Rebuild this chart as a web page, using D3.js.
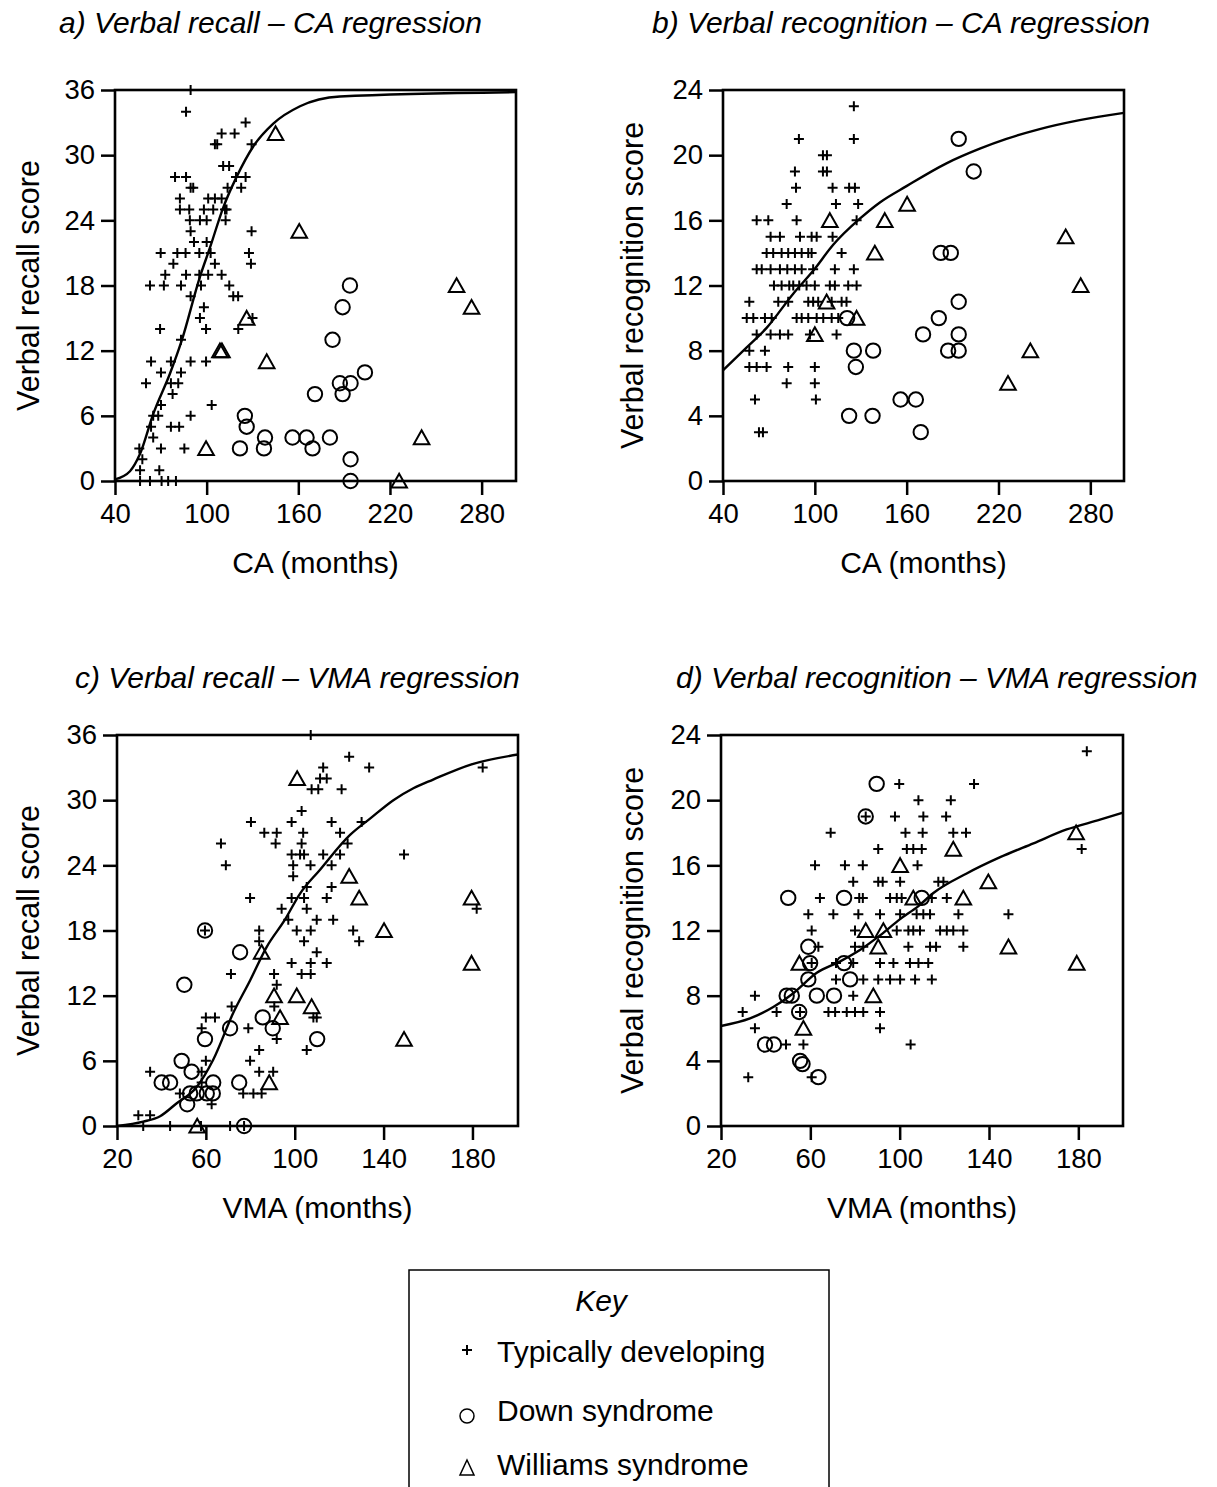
<!DOCTYPE html>
<html><head><meta charset="utf-8">
<script src="https://cdn.jsdelivr.net/npm/d3@7"></script>
<style>body{margin:0;background:#fff}svg{display:block}</style>
</head><body>
<script>
// ---------- DATA ----------
const groups = ["Typically developing", "Down syndrome", "Williams syndrome"];
const panelTitles = ["a) Verbal recall \u2013 CA regression", "b) Verbal recognition \u2013 CA regression",
                     "c) Verbal recall \u2013 VMA regression", "d) Verbal recognition \u2013 VMA regression"];
const xLabels = ["CA (months)", "CA (months)", "VMA (months)", "VMA (months)"];
const yLabels = ["Verbal recall score", "Verbal recognition score", "Verbal recall score", "Verbal recognition score"];
const xTicksCA = [40, 100, 160, 220, 280];
const xTicksVMA = [20, 60, 100, 140, 180];
const yTicksRecall = [0, 6, 12, 18, 24, 30, 36];
const yTicksRecog = [0, 4, 8, 12, 16, 20, 24];

// Panel a: recall vs CA
const tdA = [[89.5,36],[86.5,34],[125.5,33],[109.8,32],[118.3,32],[105.4,31],[106.9,31],[129.4,31],
 [110.8,29],[114.7,29],[79.3,28],[86.5,28],[119.2,28],[125.5,28],[89.5,27],[91.2,27],[113.7,27],[122.6,27],
 [82.5,26],[101,26],[105.4,26],[109.8,26],[82.5,25],[88.6,25],[98.2,25],[104.3,25],[112,25],[113,25],
 [89,24],[95.6,24],[100,24],[112.4,24],[89.5,23],[129.4,23],[91.7,22],[100,22],
 [69.9,21],[80.8,21],[86.2,21],[95.2,21],[102.6,21],[127.7,21],[78.2,20],[105.4,20],[129,20],
 [72.9,19],[86.5,19],[95.2,19],[101,19],[109.8,19],[62.9,18],[72,18],[83.2,18],[96.3,18],[114.8,18],
 [117.4,17],[120.6,17],[89.5,17],[98.2,16],[95.6,15],[130,15],[69.5,14],[99.6,14],[120.7,14],[83.2,13],
 [63.6,11],[76.6,11],[89.5,11],[99.6,11],[70.1,10],[83.2,10],[60.3,9],[76.6,9],[81.4,9],[77.7,8],
 [70.1,7],[103.3,7],[65,6],[68.3,6],[89.5,6],[63.6,5],[76.6,5],[82,5],[65,4],[55.9,3],[70.1,3],[85.4,3],
 [57.9,2],[56.4,1],[69,1],[56.4,0],[62.9,0],[70.5,0],[74.8,0],[79.9,0]];
const dsA = [[125,6],[126.2,5],[138.2,4],[121.8,3],[137.5,3],[156.2,4],[193.8,18],[189,16],[182.4,13],
 [203.6,10],[187.2,9],[194.2,9],[189,8],[170.9,8],[165.4,4],[169.3,3],[180.7,4],[194.2,2],[194.2,0]];
const wsA = [[145.1,32],[160.6,23],[126.2,15],[108.7,12],[110,12],[139.3,11],[99.6,3],[263.6,18],[273.4,16],[240.7,4],[226,0]];
const fitA = [[40,0.15],[49.8,0.9],[56.4,2.5],[65.1,6.2],[76,9.9],[83.6,12.9],[95.6,18.8],[102.2,21.5],
 [110.9,25.2],[119.6,28],[130.5,30.8],[143.6,32.9],[161.1,34.5],[187.2,35.4],[302.5,35.8]];

// Panel b: recognition vs CA
const tdB = [[125.5,23],[89.6,21],[125.5,21],[105.3,20],[107.9,20],[87,19],[105.3,19],[107.9,19],
 [87.7,18],[111.6,18],[122.4,18],[126.2,18],[81.6,17],[113.8,17],[128.3,17],
 [62,16],[69.6,16],[88.1,16],[127.3,16],[71.1,15],[77.2,15],[90.3,15],[97.9,15],[101.2,15],[111.6,15],
 [68.5,14],[72.8,14],[78.3,14],[82.6,14],[87,14],[91.4,14],[95.7,14],[97.9,14],[117.5,14],
 [62,13],[65.3,13],[71.1,13],[77.2,13],[82,13],[87,13],[91.4,13],[98.9,13],[113.1,13],[125.5,13],
 [73.3,12],[78.3,12],[83.3,12],[85.9,12],[89.8,12],[94.6,12],[100,12],[109.8,12],[113.1,12],[121.8,12],[127.3,12],
 [57.2,11],[76.1,11],[82.6,11],[95.7,11],[98.9,11],[102.2,11],[111,11],[117.5,11],[120.7,11],
 [55.5,10],[59.8,10],[67.4,10],[71.8,10],[88.1,10],[91.4,10],[95.7,10],[101.2,10],[105.5,10],[111,10],[115.3,10],
 [62,9],[71.1,9],[77.2,9],[82.6,9],[96.8,9],[114.2,9],[57.2,8],[67.4,8],
 [57.2,7],[62,7],[68.5,7],[82.6,7],[100,7],[81.6,6],[100,6],[60.9,5],[100.7,5],[63.5,3],[66.1,3]];
const dsB = [[121.1,10],[125.5,8],[138.1,8],[126.8,7],[122.4,4],[137.7,4],[194,21],[203.8,19],[182.3,14],
 [188.8,14],[194,11],[181,10],[170.7,9],[194,9],[187.1,8],[194,8],[156,5],[166,5],[169.2,3]];
const wsB = [[109.8,16],[145.7,16],[139.2,14],[107.7,11],[127.3,10],[100,9],[160.3,17],[263.9,15],[273.7,12],[240.8,8],[226.2,6]];
const fitB = [[40,6.8],[55.5,8.2],[68.5,9.4],[85.9,11.5],[98.9,12.9],[112,14.5],[129.4,16.1],[142.5,17.1],
 [159.9,18.1],[186,19.5],[207.8,20.4],[225.2,21],[246.9,21.6],[273,22.15],[302,22.6]];

// Panel c: recall vs VMA
const tdC = [[107.2,36],[124.5,34],[112.8,33],[133.5,33],[184.6,33],[111.4,32],[114.4,32],[107.6,31],[110.6,31],[121.1,31],
 [103.1,29],[98.6,28],[80.3,28],[116.6,28],[130.1,28],[103.8,27],[86.3,27],[91.9,27],[120.4,27],
 [91.4,26],[103.1,26],[66.8,26],[123.8,26],[98.6,25],[102.4,25],[104.2,25],[112.8,25],[120.4,25],[149.2,25],
 [69,24],[99.3,24],[107.1,24],[116.6,24],[99.3,23],[105.4,22],[116.6,22],[79.9,21],[98.6,21],[104.2,21],[114.4,21],
 [94.1,20],[105.4,20],[181.9,20],[97.1,19],[109.9,19],[117.3,19],[100.9,18],[107.2,18],[84,18],[126.3,18],[59.6,18],
 [84,17],[104.2,17],[129,17],[109.9,16],[98.6,15],[107.2,15],[114.4,15],[103.1,14],[107.2,14],[71.3,14],[90.7,14],
 [91.9,13],[90.8,11],[71.6,11],[108.4,10],[60,10],[64.1,10],[109.9,10],[58.1,9],[79.1,9],[91.9,8],
 [105.4,7],[84,7],[60,6],[79.9,6],[34.9,5],[84,5],[90.3,5],[58.1,5],[58.1,4],
 [48.3,3],[76.8,3],[81.4,3],[85.1,3],[62.6,2],[29.6,1],[34.9,1],[31.8,0],[43.9,0],[57.8,0],[70.9,0],[77.2,0]];
const dsC = [[59.6,18],[75.4,16],[50.3,13],[85.6,10],[90.1,9],[70.9,9],[59.6,8],[49.1,6],[53.6,5],[40.1,4],
 [43.9,4],[63.3,4],[75,4],[52.9,3],[55.9,3],[60.4,3],[63.1,3],[51.6,2],[77.2,0],[110.1,8]];
const wsC = [[101.1,32],[85.1,16],[90.7,12],[100.9,12],[107.6,11],[93.4,10],[88.5,4],[56.1,0],[124.5,23],
 [129,21],[140.2,18],[179.6,21],[179.6,15],[149.2,8]];
const fitC = [[20,0],[31.8,0.4],[39.4,0.9],[46.9,2.1],[55.9,3.6],[63.3,6.1],[72.3,10.4],[79.9,13.4],[87.4,16.5],
 [95.6,19],[102.4,21.4],[111.4,23.6],[124.9,26.8],[133.9,28.3],[144.4,30],[153.4,31.1],[162.3,31.9],[179.6,33.3],[200.5,34.2]];

// Panel d: recognition vs VMA
const tdD = [[183.8,23],[99.8,21],[133.3,21],[108.4,20],[122.9,20],[97.9,19],[84.8,19],[110.6,19],[120.8,19],
 [69.1,18],[102.6,18],[110.3,18],[124,18],[129.7,18],[90.4,17],[103.2,17],[106.1,17],[109.9,17],[181.5,17],
 [62.1,16],[75.5,16],[83.5,16],[108,16],[79.2,15],[90.4,15],[92.4,15],[100.2,15],[117.3,15],[119.6,15],
 [64.3,14],[81.9,14],[83.5,14],[95.7,14],[98.7,14],[100.9,14],[114.4,14],[121.1,14],
 [59.1,13],[70.3,13],[81.5,13],[91.2,13],[100.2,13],[107.6,13],[110.6,13],[113.6,13],[126.3,13],[148.7,13],
 [60.6,12],[80,12],[98.7,12],[103.9,12],[106.1,12],[109.1,12],[118.1,12],[121.1,12],[124,12],[128.5,12],
 [63.6,11],[80,11],[83.7,11],[103.9,11],[113.6,11],[116.3,11],[128.5,11],
 [60.6,10],[71.5,10],[79.2,10],[91.2,10],[97.2,10],[104.6,10],[108.4,10],[112.8,10],
 [71.5,9],[83.7,9],[90.4,9],[95.7,9],[100.2,9],[106.9,9],[114.4,9],[35.2,8],[79.2,8],
 [29.7,7],[44.9,7],[55.4,7],[68.1,7],[71.1,7],[76.3,7],[80,7],[83.7,7],[91.2,7],[35.2,6],[91.2,6],
 [49.1,5],[56.9,5],[104.9,5],[32.2,3],[60.6,3]];
const dsD = [[89.7,21],[84.8,19],[50.1,14],[75.1,14],[59.1,11],[59.9,10],[75.1,10],[59.1,9],[77.8,9],[49.4,8],
 [51.7,8],[62.9,8],[70.6,8],[55,7],[39.7,5],[43.7,5],[55.4,4],[56.5,3.8],[63.6,3],[109.9,14]];
const wsD = [[100.2,16],[106.1,14],[84.8,12],[92.7,12],[90.4,11],[55.1,10],[88.2,8],[56.9,6],[124,17],
 [139.7,15],[128.5,14],[179,18],[148.7,11],[179.3,10]];
const fitD = [[20,6.14],[33,6.6],[43.4,7.3],[52.4,8.15],[62.9,9.4],[73.3,10.1],[82.2,10.8],[91.2,11.7],[100.2,12.7],
 [108.4,13.5],[115.1,14.3],[130,15.5],[145,16.5],[159.9,17.35],[174.8,18.2],[189.7,18.8],[200,19.24]];

// ---------- LAYOUT ----------
const W = 1217, H = 1487;
const FONT = "'Liberation Sans', Arial, Helvetica, sans-serif";
const svg = d3.select("body").append("svg").attr("width", W).attr("height", H)
  .style("font-family", FONT);

const panels = [
  {box:[115,90,516,481], xd:[40,302.5], yd:[0,36], xt:xTicksCA, yt:yTicksRecall, td:tdA, ds:dsA, ws:wsA, fit:fitA, tx:59, ty:33, ylx:28},
  {box:[723,90,1124,481], xd:[40,302], yd:[0,24], xt:xTicksCA, yt:yTicksRecog, td:tdB, ds:dsB, ws:wsB, fit:fitB, tx:652, ty:33, ylx:632},
  {box:[117,735,518,1126], xd:[20,200.5], yd:[0,36], xt:xTicksVMA, yt:yTicksRecall, td:tdC, ds:dsC, ws:wsC, fit:fitC, tx:75, ty:688, ylx:28},
  {box:[721,735,1123,1126], xd:[20,200], yd:[0,24], xt:xTicksVMA, yt:yTicksRecog, td:tdD, ds:dsD, ws:wsD, fit:fitD, tx:676, ty:688, ylx:632}
];

const plusPath = "M-5,0H5M0,-5V5";
const triPath = "M0,-7.2L7.8,6.6L-7.8,6.6Z";

panels.forEach((p, i) => {
  const [x0, y0, x1, y1] = p.box;
  const x = d3.scaleLinear().domain(p.xd).range([x0, x1]);
  const y = d3.scaleLinear().domain(p.yd).range([y1, y0]);
  const g = svg.append("g");

  // title
  g.append("text").attr("x", p.tx).attr("y", p.ty).attr("font-size", 30)
    .attr("font-style", "italic").attr("fill", "#000").text(panelTitles[i]);

  // axes
  const ax = g.append("g").attr("transform", `translate(0,${y1})`)
    .call(d3.axisBottom(x).tickValues(p.xt).tickSize(14).tickPadding(8));
  const ay = g.append("g").attr("transform", `translate(${x0},0)`)
    .call(d3.axisLeft(y).tickValues(p.yt).tickSize(14).tickPadding(6));
  [ax, ay].forEach(a => {
    a.select(".domain").remove();
    a.selectAll(".tick line").attr("stroke", "#000").attr("stroke-width", 2.5);
    a.selectAll(".tick text").attr("font-size", 27.5).attr("font-family", FONT).attr("fill", "#000");
  });

  // frame
  g.append("rect").attr("x", x0).attr("y", y0).attr("width", x1 - x0).attr("height", y1 - y0)
    .attr("fill", "none").attr("stroke", "#000").attr("stroke-width", 2.6);

  // axis labels
  g.append("text").attr("x", (x0 + x1) / 2).attr("y", y1 + 92).attr("text-anchor", "middle")
    .attr("font-size", 30).text(xLabels[i]);
  g.append("text").attr("transform", `translate(${p.ylx},${(y0 + y1) / 2}) rotate(-90)`)
    .attr("text-anchor", "middle").attr("dominant-baseline", "central")
    .attr("font-size", 30.5).text(yLabels[i]);

  // fit line
  g.append("path").datum(p.fit)
    .attr("d", d3.line().x(d => x(d[0])).y(d => y(d[1])).curve(d3.curveMonotoneX))
    .attr("fill", "none").attr("stroke", "#000").attr("stroke-width", 2.4);

  // points
  g.selectAll(".td").data(p.td).join("path").attr("class", "td")
    .attr("transform", d => `translate(${x(d[0])},${y(d[1])})`)
    .attr("d", plusPath).attr("stroke", "#000").attr("stroke-width", 2).attr("fill", "none");
  g.selectAll(".ds").data(p.ds).join("circle").attr("class", "ds")
    .attr("cx", d => x(d[0])).attr("cy", d => y(d[1])).attr("r", 7.2)
    .attr("fill", "none").attr("stroke", "#000").attr("stroke-width", 2);
  g.selectAll(".ws").data(p.ws).join("path").attr("class", "ws")
    .attr("transform", d => `translate(${x(d[0])},${y(d[1])})`)
    .attr("d", triPath).attr("fill", "none").attr("stroke", "#000").attr("stroke-width", 2);
});

// ---------- LEGEND ----------
const lg = svg.append("g");
lg.append("rect").attr("x", 409).attr("y", 1270).attr("width", 420).attr("height", 240)
  .attr("fill", "none").attr("stroke", "#000").attr("stroke-width", 1.5);
lg.append("text").attr("x", 601).attr("y", 1311).attr("text-anchor", "middle")
  .attr("font-size", 30).attr("font-style", "italic").text("Key");
const legY = [1352, 1411, 1465];
groups.forEach((name, i) => {
  const sy = legY[i];
  if (i === 0) lg.append("path").attr("transform", `translate(467,${sy - 2})`).attr("d", "M-5,0H5M0,-5V5")
    .attr("stroke", "#000").attr("stroke-width", 2);
  if (i === 1) lg.append("circle").attr("cx", 467).attr("cy", sy + 5).attr("r", 7)
    .attr("fill", "none").attr("stroke", "#000").attr("stroke-width", 1.5);
  if (i === 2) lg.append("path").attr("transform", `translate(467,${sy + 3})`).attr("d", "M0,-8L7,7L-7,7Z")
    .attr("fill", "none").attr("stroke", "#000").attr("stroke-width", 1.5);
  lg.append("text").attr("x", 497).attr("y", sy + 10).attr("font-size", 30).text(name);
});
</script>
</body></html>
